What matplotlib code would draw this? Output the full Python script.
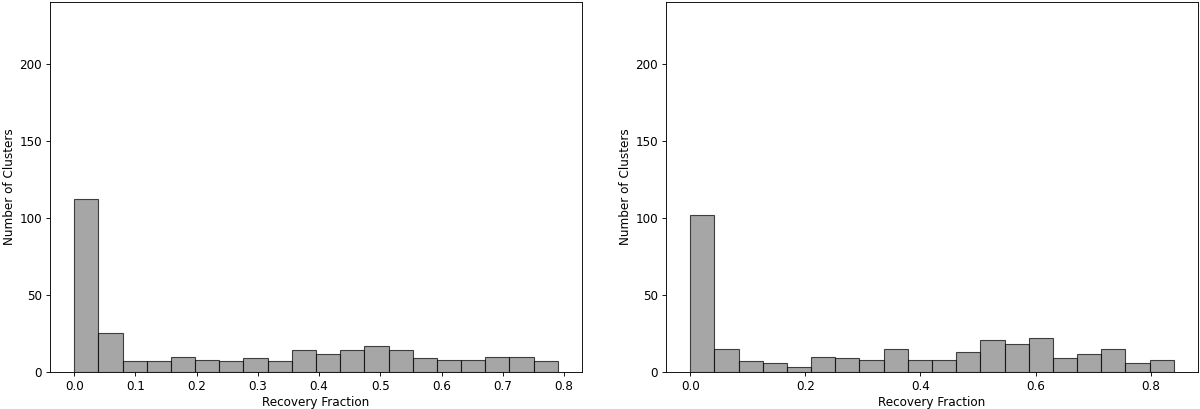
import numpy as np
import matplotlib
matplotlib.use("Agg")
import matplotlib.pyplot as plt

# Histogram counts (20 bins each)
left_counts = [112, 25, 7, 7, 10, 8, 7, 9, 7, 14, 12, 14, 17, 14, 9, 8, 8, 10, 10, 7]
left_range = (0.0, 0.79)
right_counts = [102, 15, 7, 6, 3, 10, 9, 8, 15, 8, 8, 13, 21, 18, 22, 9, 12, 15, 6, 8]
right_range = (0.0, 0.84)

x_label = "Recovery Fraction"
y_label = "Number of Clusters"

plt.rcParams["font.size"] = 10.8

fig = plt.figure(figsize=(15, 409 / 80), dpi=80)
W, H = 1200, 409
ax1 = fig.add_axes([50 / W, (H - 372) / H, 532 / W, 370 / H])
ax2 = fig.add_axes([666 / W, (H - 372) / H, 532 / W, 370 / H])

for ax, counts, rng in [(ax1, left_counts, left_range), (ax2, right_counts, right_range)]:
    edges = np.linspace(rng[0], rng[1], len(counts) + 1)
    ax.bar(edges[:-1], counts, width=np.diff(edges), align="edge",
           color="gray", alpha=0.7, edgecolor="black", linewidth=1.0)
    ax.set_ylim(0, 240)
    ax.set_yticks([0, 50, 100, 150, 200])
    ax.set_xlabel(x_label, labelpad=3)
    ax.set_ylabel(y_label, labelpad=3)

fig.savefig("out.png", dpi=80)
